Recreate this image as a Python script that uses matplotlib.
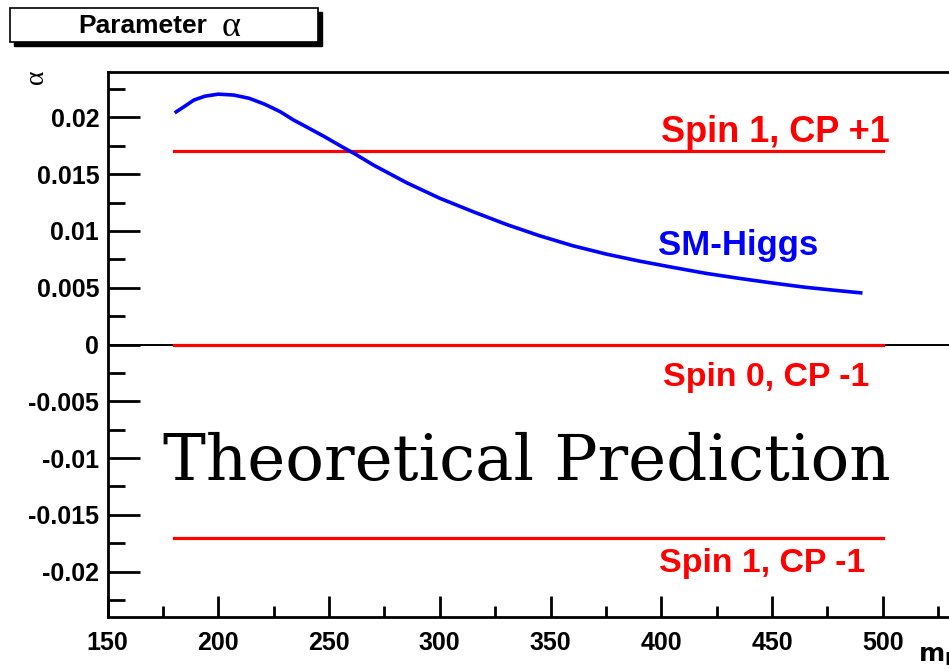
import numpy as np
import matplotlib.pyplot as plt
from matplotlib.patches import Rectangle

# SM-Higgs prediction of alpha vs Higgs mass
m_higgs = [181, 185, 189, 194, 200, 207, 214, 221, 228, 234, 241, 248, 255, 262,
           270, 285, 300, 315, 330, 345, 360, 375, 390, 405, 420, 435, 450, 465, 480, 490]
alpha_sm = [0.02049, 0.02100, 0.02153, 0.02187, 0.02205, 0.02197, 0.02168, 0.02116,
            0.02050, 0.01977, 0.01904, 0.01830, 0.01751, 0.01675,
            0.01581, 0.01425, 0.01288, 0.01170, 0.01058, 0.00958, 0.00870, 0.00797,
            0.00735, 0.00680, 0.00627, 0.00583, 0.00542, 0.00504, 0.00474, 0.00455]

# constant predictions for other spin / CP hypotheses
hyp_labels = ["Spin 1, CP +1", "Spin 0, CP -1", "Spin 1, CP -1"]
hyp_alpha = [0.017, 0.0, -0.017]
hyp_range = [180, 500]

xtick_vals = [150, 200, 250, 300, 350, 400, 450, 500]
ytick_vals = [-0.02, -0.015, -0.01, -0.005, 0, 0.005, 0.01, 0.015, 0.02]
ytick_text = ["-0.02", "-0.015", "-0.01", "-0.005", "0", "0.005", "0.01", "0.015", "0.02"]

W, H = 949, 672
fig = plt.figure(figsize=(W / 100, H / 100), dpi=100)
ax = fig.add_axes([107.5 / W, 55 / H, (993.6 - 107.5) / W, 545 / H])

bold = dict(family="Liberation Sans", weight="bold")

ax.axhline(0, color="black", lw=1.4, zorder=1)
for a in hyp_alpha:
    ax.plot(hyp_range, [a, a], color="#ff0000", lw=2.3, zorder=2)
ax.plot(m_higgs, alpha_sm, color="#0000ff", lw=2.6, zorder=3)

ax.text(451.7, 0.0187, hyp_labels[0], color="#ff0000", fontsize=26, ha="center", va="center", **bold)
ax.text(447.2, -0.0029, hyp_labels[1], color="#ff0000", fontsize=24.4, ha="center", va="center", **bold)
ax.text(445.6, -0.0193, hyp_labels[2], color="#ff0000", fontsize=24.4, ha="center", va="center", **bold)
ax.text(434.6, 0.0087, "SM-Higgs", color="#0000ff", fontsize=25, ha="center", va="center", **bold)
ax.text(339.3, -0.0104, "Theoretical Prediction", fontsize=46.3, family="DejaVu Serif",
        ha="center", va="center")

ax.set_xlim(150, 550)
ax.set_ylim(-0.024, 0.024)
ax.set_xticks(xtick_vals)
ax.set_xticks(np.arange(150, 551, 25), minor=True)
ax.set_yticks(ytick_vals)
ax.set_yticks(np.arange(-0.0225, 0.0226, 0.0025), minor=True)
ax.set_yticklabels(ytick_text)

ax.tick_params(axis="both", which="both", direction="in", color="black", width=2)
ax.tick_params(axis="y", which="major", length=23, pad=6)
ax.tick_params(axis="y", which="minor", length=12)
ax.tick_params(axis="x", which="major", length=15, pad=10)
ax.tick_params(axis="x", which="minor", length=8)
ax.tick_params(top=False, right=False)
for lab in ax.get_xticklabels() + ax.get_yticklabels():
    lab.set_family("Liberation Sans")
    lab.set_weight("bold")
    lab.set_fontsize(18)
for s in ax.spines.values():
    s.set_linewidth(2)

# axis titles
fig.text(37 / W, 1 - 77 / H, "α", family="Liberation Serif", fontsize=20, rotation=90,
         ha="center", va="center")
fig.text(918 / W, 1 - 656 / H, r"$\mathbf{m_H}$", fontsize=18, ha="left", va="center")

# title box with drop shadow
fig.patches.append(Rectangle((14 / W, 1 - 46 / H), 308 / W, 34 / H, transform=fig.transFigure,
                             facecolor="black", edgecolor="black", zorder=1))
fig.patches.append(Rectangle((10 / W, 1 - 42 / H), 308 / W, 34 / H, transform=fig.transFigure,
                             facecolor="white", edgecolor="black", lw=1.2, zorder=2))
fig.text(207 / W, 1 - 26 / H, "Parameter", fontsize=19, ha="right", va="center", zorder=3, **bold)
fig.text(231 / W, 1 - 27 / H, "α", fontsize=26, family="Liberation Serif",
         ha="center", va="center", zorder=3)

fig.savefig("out.png", dpi=100)
